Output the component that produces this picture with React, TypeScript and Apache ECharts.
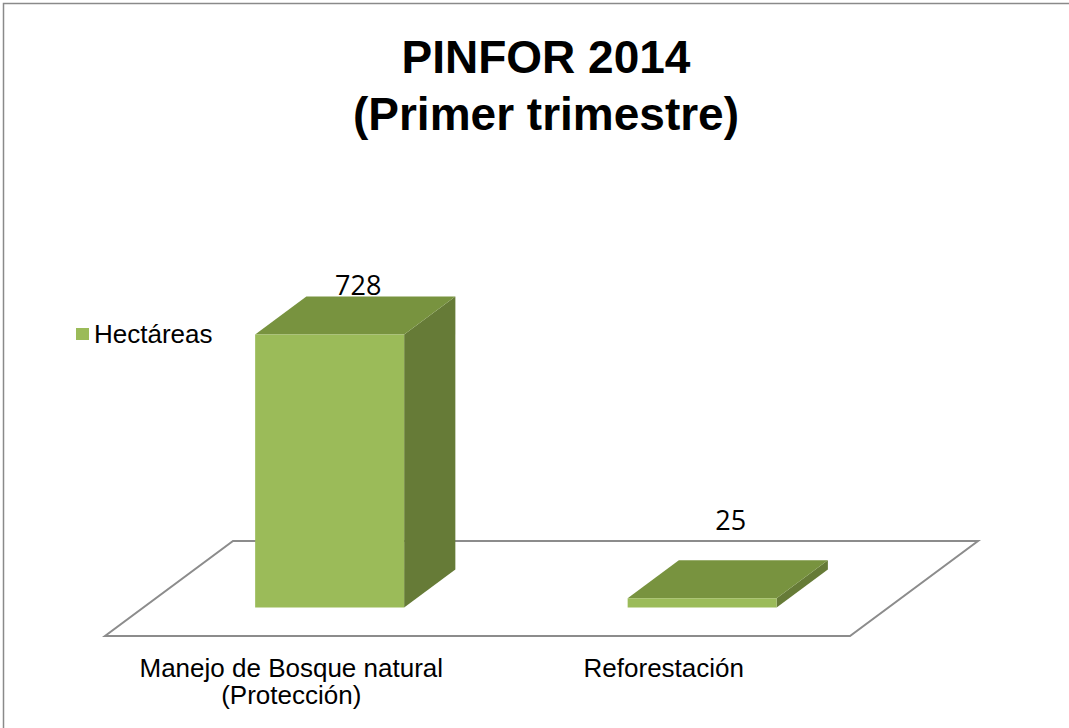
import React, { useEffect, useRef } from "react";
import * as echarts from "echarts";

const categories = ["Manejo de Bosque natural\n(Protección)", "Reforestación"];
const hectareas = [728, 25];
const seriesName = "Hectáreas";
const titleText = "PINFOR 2014\n(Primer trimestre)";
const yMax = 800;

const FRONT = "#9bbb59";
const TOP = "#78933f";
const SIDE = "#667b37";
const FLOOR_DX = 128;
const FLOOR_DY = 95;
const SANS = "'Liberation Sans', Arial, sans-serif";

export default function App() {
  const ref = useRef<HTMLDivElement>(null);
  useEffect(() => {
    document.body.style.margin = "0";
    const chart = echarts.init(ref.current!, null, { renderer: "svg" });
    const option: any = {
      animation: false,
      backgroundColor: "#ffffff",
      grid: { left: 105, right: 219, top: 336, bottom: 92 },
      legend: {
        data: [{ name: seriesName, icon: "rect" }],
        left: 76,
        top: 319,
        padding: 0,
        itemWidth: 13,
        itemHeight: 12,
        textStyle: { fontSize: 26, fontFamily: SANS, color: "#000", lineHeight: 30 },
      },
      xAxis: {
        type: "category",
        data: categories,
        axisLine: { show: false },
        axisTick: { show: false },
        splitLine: { show: false },
        axisLabel: {
          interval: 0,
          fontSize: 26,
          fontFamily: SANS,
          color: "#000",
          lineHeight: 27,
          margin: 18,
        },
      },
      yAxis: { type: "value", min: 0, max: yMax, show: false },
      graphic: [
        {
          type: "rect",
          shape: { x: 3.5, y: 3.5, width: 1200, height: 900 },
          style: { fill: "none", stroke: "#8a8a8a", lineWidth: 1.5 },
          silent: true,
        },
        {
          type: "text",
          style: {
            text: titleText,
            x: 546,
            y: 28,
            align: "center",
            verticalAlign: "top",
            fontSize: 46,
            fontWeight: "bold",
            fontFamily: SANS,
            lineHeight: 57,
            fill: "#000",
          },
        },
      ],
      series: [
        {
          type: "custom",
          name: "floor",
          silent: true,
          data: [[0, 0]],
          encode: { x: 0, y: 1 },
          renderItem: (params: any) => {
            const cs = params.coordSys;
            const x0 = cs.x;
            const x1 = cs.x + cs.width;
            const yb = cs.y + cs.height;
            return {
              type: "polygon",
              shape: {
                points: [
                  [x0, yb],
                  [x1, yb],
                  [x1 + FLOOR_DX, yb - FLOOR_DY],
                  [x0 + FLOOR_DX, yb - FLOOR_DY],
                ],
              },
              style: { fill: "#ffffff", stroke: "#8c8c8c", lineWidth: 2 },
            };
          },
        },
        {
          type: "custom",
          name: seriesName,
          itemStyle: { color: FRONT },
          data: hectareas.map((v, i) => [i, v]),
          encode: { x: 0, y: 1 },
          renderItem: (params: any, api: any) => {
            const i = api.value(0);
            const v = api.value(1);
            const top = api.coord([i, v]);
            const base = api.coord([i, 0]);
            const band = api.size([1, 0])[0];
            const barW = band * 0.4;
            const ox = FLOOR_DX * 0.3;
            const oy = FLOOR_DY * 0.3;
            const bdx = FLOOR_DX * 0.4;
            const bdy = FLOOR_DY * 0.4;
            const x0 = top[0] + ox - barW / 2;
            const x1 = x0 + barW;
            const yTop = top[1] - oy;
            const yBase = base[1] - oy;
            const floorBack = base[1] - FLOOR_DY;
            const labelBase = Math.min(yTop - bdy - 2, floorBack - 12);
            return {
              type: "group",
              children: [
                {
                  type: "polygon",
                  shape: {
                    points: [
                      [x1, yTop],
                      [x1 + bdx, yTop - bdy],
                      [x1 + bdx, yBase - bdy],
                      [x1, yBase],
                    ],
                  },
                  style: { fill: SIDE },
                },
                {
                  type: "polygon",
                  shape: {
                    points: [
                      [x0, yTop],
                      [x1, yTop],
                      [x1 + bdx, yTop - bdy],
                      [x0 + bdx, yTop - bdy],
                    ],
                  },
                  style: { fill: TOP },
                },
                {
                  type: "rect",
                  shape: { x: x0, y: yTop, width: barW, height: yBase - yTop },
                  style: { fill: FRONT },
                },
                {
                  type: "text",
                  style: {
                    text: String(v),
                    x: (x0 + x1) / 2 + bdx / 2 + 3,
                    y: labelBase - 10,
                    align: "center",
                    verticalAlign: "middle",
                    fontSize: 27,
                    fontFamily: "'Open Sans', sans-serif",
                    fill: "#000",
                  },
                },
              ],
            };
          },
        },
      ],
    };
    chart.setOption(option);
    return () => chart.dispose();
  }, []);
  return (
    <div
      ref={ref}
      style={{ position: "absolute", left: 0, top: 0, width: 1069, height: 728 }}
    />
  );
}
